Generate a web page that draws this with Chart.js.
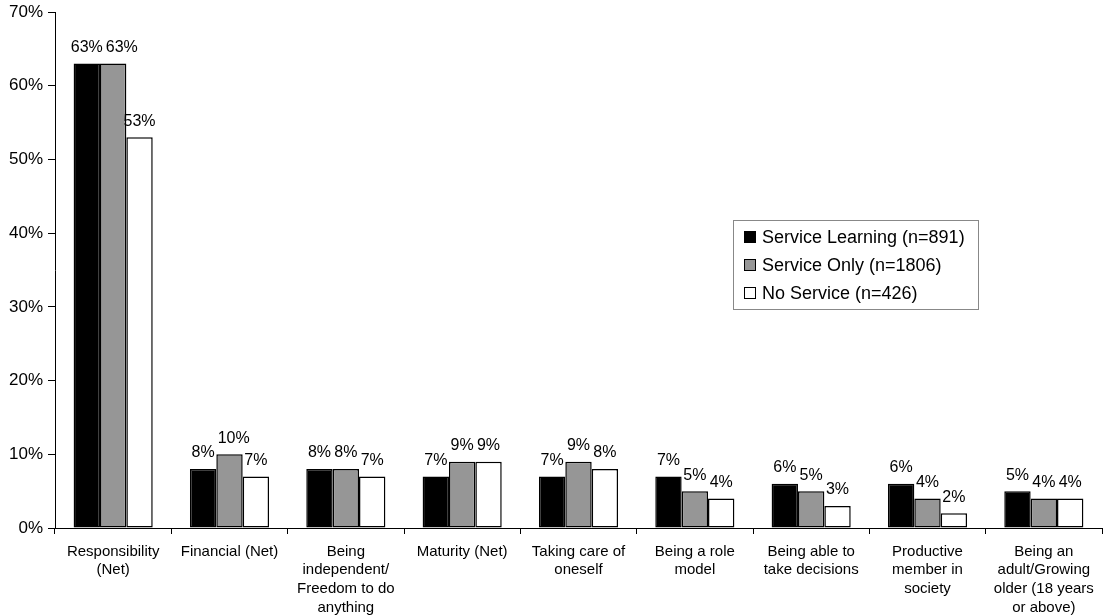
<!DOCTYPE html>
<html>
<head>
<meta charset="utf-8">
<script src="https://cdn.jsdelivr.net/npm/chart.js@4/dist/chart.umd.min.js"></script>
<style>
  html, body { margin:0; padding:0; background:#fff; }
  #wrap { width:1103px; height:616px; }
</style>
</head>
<body>
<div id="wrap"><canvas id="chart" width="1103" height="616"></canvas></div>
<script>
  const categories = [
    ['Responsibility', '(Net)'],
    ['Financial (Net)'],
    ['Being', 'independent/', 'Freedom to do', 'anything'],
    ['Maturity (Net)'],
    ['Taking care of', 'oneself'],
    ['Being a role', 'model'],
    ['Being able to', 'take decisions'],
    ['Productive', 'member in', 'society'],
    ['Being an', 'adult/Growing', 'older (18 years', 'or above)']
  ];
  const serviceLearning = [63, 8, 8, 7, 7, 7, 6, 6, 5];
  const serviceOnly     = [63, 10, 8, 9, 9, 5, 5, 4, 4];
  const noService       = [53, 7, 7, 9, 8, 4, 3, 2, 4];
  const seriesNames = ['Service Learning (n=891)', 'Service Only (n=1806)', 'No Service (n=426)'];
  const yTicks = [0, 10, 20, 30, 40, 50, 60, 70];

  const FONT = '"Liberation Sans", Arial, sans-serif';

  // value labels above each bar; a label that would collide with the one
  // to its left (same height) is pushed right
  const barLabels = {
    id: 'barLabels',
    afterDatasetsDraw(chart){
      const ctx = chart.ctx;
      ctx.save();
      ctx.font = '16px ' + FONT;
      ctx.fillStyle = '#000';
      ctx.textAlign = 'left';
      ctx.textBaseline = 'bottom';
      const n = chart.data.labels.length;
      for (let j = 0; j < n; j++){
        let prev = null;
        chart.data.datasets.forEach((ds, i)=>{
          const bar = chart.getDatasetMeta(i).data[j];
          const txt = ds.data[j] + '%';
          const w = ctx.measureText(txt).width;
          let x = bar.x - w/2;
          const y = bar.y - 8;
          if (prev && Math.abs(prev.y - y) < 16 && x < prev.right + 3) x = prev.right + 3;
          ctx.fillText(txt, x, y);
          prev = {right: x + w, y};
        });
      }
      ctx.restore();
    }
  };

  // boxed legend inside the plot
  const boxLegend = {
    id: 'boxLegend',
    afterDraw(chart){
      const ctx = chart.ctx;
      const x = 733, y = 220, w = 245, h = 89, row = 28;
      ctx.save();
      ctx.fillStyle = '#fff';
      ctx.fillRect(x, y, w, h);
      ctx.strokeStyle = '#888';
      ctx.lineWidth = 1;
      ctx.strokeRect(x + 0.5, y + 0.5, w, h);
      ctx.font = '18px ' + FONT;
      ctx.textBaseline = 'middle';
      chart.data.datasets.forEach((ds, i)=>{
        const cy = y + 17 + i * row;
        ctx.fillStyle = ds.backgroundColor;
        ctx.fillRect(744, cy - 6, 12, 12);
        ctx.strokeStyle = '#000';
        ctx.strokeRect(744.5, cy - 5.5, 11, 11);
        ctx.fillStyle = '#000';
        ctx.fillText(ds.label, 762, cy + 1);
      });
      ctx.restore();
    }
  };

  const mk = (label, data, color)=>({
    label, data,
    backgroundColor: color,
    borderColor: '#000',
    borderWidth: 1.5,
    borderSkipped: false,
    categoryPercentage: 0.68,
    barPercentage: 1.0
  });

  new Chart(document.getElementById('chart'), {
    type: 'bar',
    data: {
      labels: categories,
      datasets: [
        mk(seriesNames[0], serviceLearning, '#000000'),
        mk(seriesNames[1], serviceOnly, '#969696'),
        mk(seriesNames[2], noService, '#ffffff')
      ]
    },
    options: {
      responsive: false,
      animation: false,
      layout: { padding: { top: 3, right: 1, left: 0, bottom: 0 } },
      plugins: { legend: { display: false }, tooltip: { enabled: false } },
      scales: {
        x: {
          grid: { display: true, drawOnChartArea: false, offset: true, color: '#000', tickLength: 6 },
          border: { color: '#000', width: 1 },
          ticks: { color: '#000', font: { family: FONT, size: 15, lineHeight: 1.25 }, maxRotation: 0, autoSkip: false, padding: 8 },
          afterFit(s){ s.height = 88; }
        },
        y: {
          min: 0, max: 70,
          afterBuildTicks(s){ s.ticks = yTicks.map(v=>({value:v})); },
          grid: { display: true, drawOnChartArea: false, color: '#000', tickLength: 7 },
          border: { color: '#000', width: 1 },
          ticks: { color: '#000', font: { family: FONT, size: 17 }, padding: 5, callback: v=>v + '%' },
          afterFit(s){ s.width = 55; s.paddingTop = 12; }
        }
      }
    },
    plugins: [barLabels, boxLegend]
  });
</script>
</body>
</html>
